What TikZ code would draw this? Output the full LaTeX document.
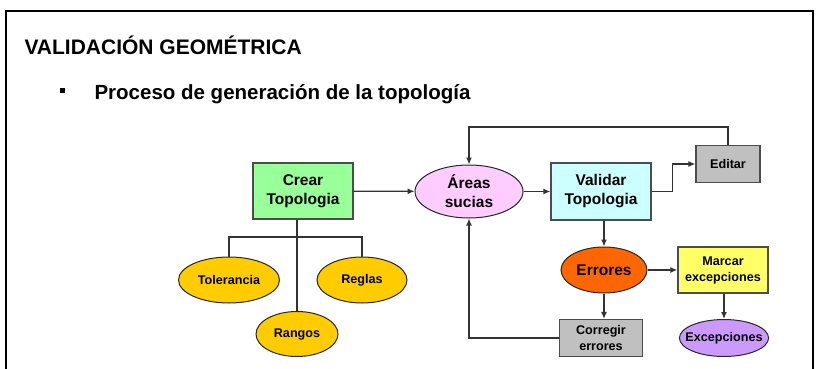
\documentclass[tikz,border=0pt]{standalone}
\usepackage{fontspec}
\setmainfont{Liberation Sans}
\usetikzlibrary{arrows.meta,shapes.geometric}
\definecolor{verde}{HTML}{99FF99}
\definecolor{celeste}{HTML}{CCFFFF}
\definecolor{rosa}{HTML}{FFCCFF}
\definecolor{oro}{HTML}{FFCC00}
\definecolor{naranja}{HTML}{FF6600}
\definecolor{amarillo}{HTML}{FFFF66}
\definecolor{lila}{HTML}{CC99FF}
\definecolor{gris}{HTML}{C0C0C0}
\begin{document}
\begin{tikzpicture}[x=1pt,y=-1pt,>={Latex[length=7pt,width=6pt]},
	caja/.style={draw=black!70,line width=1.3pt,align=center,inner sep=0pt},
	ovalo/.style={ellipse,draw=black!85,line width=1pt,align=center,inner sep=0pt},
	grande/.style={font=\bfseries\fontsize{15.5}{19}\selectfont},
	chico/.style={font=\bfseries\fontsize{12.6}{16}\selectfont},
	flecha/.style={->,line width=1.3pt,black!80},
	rama/.style={line width=1.3pt,black!80}]
	\useasboundingbox (0,0) rectangle (819,369);
	% marco
	\draw[line width=2pt] (6,369)--(6,11)--(813,11)--(813,369);
	\node[anchor=west,font=\bfseries\fontsize{21}{24}\selectfont] (titulo) at (21,45) {VALIDACIÓN GEOMÉTRICA};
	\fill (60,88) rectangle (65,93);
	\node[anchor=west,font=\bfseries\fontsize{20.5}{24}\selectfont] (subtitulo) at (91,94) {Proceso de generación de la topología};
	% nodos
	\node[caja,grande,fill=verde,minimum width=100pt,minimum height=56pt] (crear) at (303,191) {Crear\\Topologia};
	\node[ovalo,grande,fill=rosa,minimum width=108pt,minimum height=53pt] (areas) at (469,191.5) {Áreas\\sucias};
	\node[caja,grande,fill=celeste,minimum width=100pt,minimum height=57pt] (validar) at (601,191.5) {Validar\\Topologia};
	\node[caja,chico,fill=gris,minimum width=64pt,minimum height=37pt] (editar) at (728,164) {Editar};
	\node[ovalo,grande,fill=naranja,minimum width=86pt,minimum height=46pt] (errores) at (604,270) {Errores};
	\node[caja,chico,fill=amarillo,minimum width=90pt,minimum height=46pt] (marcar) at (723,270) {Marcar\\excepciones};
	\node[caja,chico,fill=gris,minimum width=83pt,minimum height=37pt] (corregir) at (601,338) {Corregir\\errores};
	\node[ovalo,chico,fill=lila,inner xsep=-7pt,minimum width=87pt,minimum height=37pt] (excep) at (724,338) {Excepciones};
	\node[ovalo,chico,fill=oro,minimum width=101pt,minimum height=46pt] (tolerancia) at (229,280) {Tolerancia};
	\node[ovalo,chico,fill=oro,minimum width=90pt,minimum height=46pt] (reglas) at (362,280) {Reglas};
	\node[ovalo,chico,fill=oro,minimum width=82pt,minimum height=45pt] (rangos) at (297,334) {Rangos};
	\coordinate (cruce) at (297,237);
	\coordinate (arriba) at (469,127);
	% conectores
	\draw[rama] (rangos.north) -- (rangos.north |- crear.south);
	\draw[rama] (tolerancia.north) |- (cruce) -| (reglas.north);
	\draw[flecha] (crear) -- (areas);
	\draw[flecha] (areas) -- (validar);
	\draw[flecha] (validar.east) -- ++(21,0) |- (editar.west);
	\draw[flecha] (editar.north) |- (arriba) -- (areas.north);
	\draw[flecha] (validar.south -| errores.north) -- (errores.north);
	\draw[flecha] (errores) -- (errores -| marcar.west);
	\draw[flecha] (marcar.south -| excep.north) -- (excep.north);
	\draw[flecha] (errores.south) -- (errores.south |- corregir.north);
	\draw[flecha] (corregir.west) -| (areas.south);
\end{tikzpicture}
\end{document}
